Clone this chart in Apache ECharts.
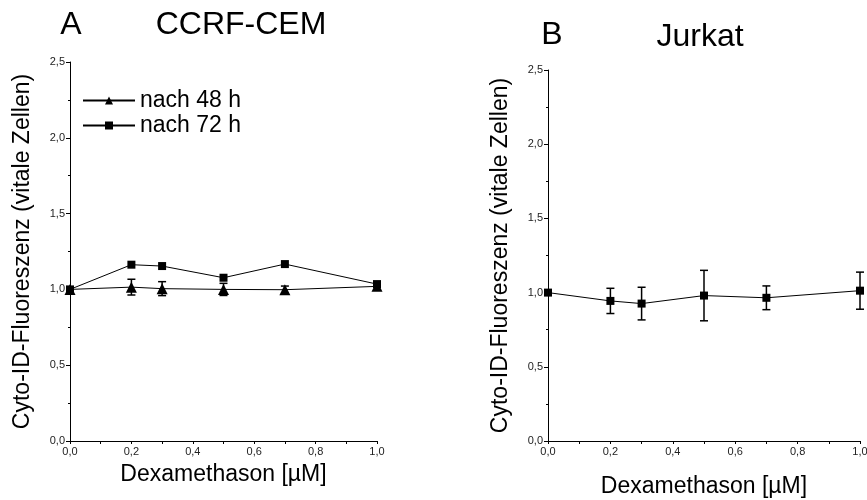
<!DOCTYPE html>
<html>
<head>
<meta charset="utf-8">
<script src="https://cdn.jsdelivr.net/npm/echarts@6/dist/echarts.min.js"></script>
<style>
  html, body { margin: 0; padding: 0; background: #fff; }
  #chart { width: 867px; height: 500px; }
</style>
</head>
<body>
<div id="chart"></div>
<script>
// Dexamethason-Konzentration [µM]
var doses = [0, 0.2, 0.3, 0.5, 0.7, 1.0]

// A: CCRF-CEM
var cem48 = [1.0, 1.015, 1.005, 1.0, 0.998, 1.02]
var cem48Err = [0, 0.052, 0.046, 0.04, 0.024, 0.025]
var cem72 = [1.0, 1.163, 1.154, 1.077, 1.167, 1.035]

// B: Jurkat
var jurkat = [1.0, 0.944, 0.926, 0.98, 0.965, 1.013]
var jurkatErr = [0, 0.085, 0.11, 0.17, 0.08, 0.125]

var yTicks = [0, 0.5, 1.0, 1.5, 2.0, 2.5]

var FONT = "'Liberation Sans', Arial, sans-serif"
var chart = echarts.init(document.getElementById('chart'))

function comma(v) {
    return v.toFixed(1).replace('.', ',')
}

function pairs(xs, ys) {
    return xs.map(function (x, i) { return [x, ys[i]] })
}

function errData(xs, ys, es) {
    var out = []
    for (var i = 0; i < xs.length; i++) {
        if (es[i] > 0) out.push([xs[i], ys[i] - es[i], ys[i] + es[i]])
    }
    return out
}

function renderErr(params, api) {
    var lo = api.coord([api.value(0), api.value(1)])
    var hi = api.coord([api.value(0), api.value(2)])
    var cap = 4
    var st = { stroke: '#000', lineWidth: 1.5 }
    return {
        type: 'group',
        children: [
            { type: 'line', shape: { x1: lo[0], y1: lo[1], x2: hi[0], y2: hi[1] }, style: st },
            { type: 'line', shape: { x1: hi[0] - cap, y1: hi[1], x2: hi[0] + cap, y2: hi[1] }, style: st },
            { type: 'line', shape: { x1: lo[0] - cap, y1: lo[1], x2: lo[0] + cap, y2: lo[1] }, style: st }
        ]
    }
}

function xAxisOf(idx, gap) {
    return {
        gridIndex: idx,
        type: 'value',
        min: 0,
        max: 1,
        interval: 0.2,
        name: 'Dexamethason [\u00b5M]',
        nameLocation: 'middle',
        nameGap: gap,
        nameTextStyle: { fontFamily: FONT, fontSize: 23, color: '#000' },
        axisLine: { lineStyle: { color: '#000', width: 1 } },
        axisTick: { length: 3, lineStyle: { color: '#000' } },
        minorTick: { show: true, splitNumber: 2, length: 3, lineStyle: { color: '#000' } },
        splitLine: { show: false },
        axisLabel: { fontFamily: FONT, fontSize: 11, color: '#222', margin: 5, formatter: comma }
    }
}

function yAxisOf(idx) {
    return {
        gridIndex: idx,
        type: 'value',
        min: yTicks[0],
        max: yTicks[yTicks.length - 1],
        interval: 0.5,
        name: 'Cyto-ID-Fluoreszenz (vitale Zellen)',
        nameLocation: 'middle',
        nameGap: 36,
        nameTextStyle: { fontFamily: FONT, fontSize: 23, color: '#000' },
        axisLine: { show: true, lineStyle: { color: '#000', width: 1 } },
        axisTick: { show: true, length: 4, lineStyle: { color: '#000' } },
        minorTick: { show: true, splitNumber: 2, length: 2, lineStyle: { color: '#000' } },
        splitLine: { show: false },
        axisLabel: { fontFamily: FONT, fontSize: 11, color: '#222', margin: 5, formatter: comma }
    }
}

var option = {
    animation: false,
    backgroundColor: '#fff',
    graphic: [
        { type: 'text', x: 71, y: 25, style: { text: 'A', font: '32px ' + FONT, fill: '#000', align: 'center', verticalAlign: 'middle' } },
        { type: 'text', x: 241, y: 25, style: { text: 'CCRF-CEM', font: '32px ' + FONT, fill: '#000', align: 'center', verticalAlign: 'middle' } },
        { type: 'text', x: 552, y: 35, style: { text: 'B', font: '32px ' + FONT, fill: '#000', align: 'center', verticalAlign: 'middle' } },
        { type: 'text', x: 700, y: 37, style: { text: 'Jurkat', font: '32px ' + FONT, fill: '#000', align: 'center', verticalAlign: 'middle' } }
    ],
    legend: {
        data: ['nach 48 h', 'nach 72 h'],
        orient: 'vertical',
        left: 77,
        top: 84,
        itemWidth: 52,
        itemHeight: 10,
        itemGap: 2,
        textStyle: { fontFamily: FONT, fontSize: 23, color: '#000' }
    },
    grid: [
        { left: 70, top: 62, width: 307, height: 379, outerBoundsMode: 'none' },
        { left: 548, top: 70, width: 312, height: 371, outerBoundsMode: 'none' }
    ],
    xAxis: [xAxisOf(0, 22), xAxisOf(1, 34)],
    yAxis: [yAxisOf(0), yAxisOf(1)],
    series: [
        {
            name: 'nach 48 h',
            type: 'line',
            xAxisIndex: 0,
            yAxisIndex: 0,
            data: pairs(doses, cem48),
            symbol: 'triangle',
            symbolSize: 11,
            clip: false,
            lineStyle: { color: '#000', width: 1 },
            itemStyle: { color: '#000' },
            z: 3
        },
        {
            name: 'nach 72 h',
            type: 'line',
            xAxisIndex: 0,
            yAxisIndex: 0,
            data: pairs(doses, cem72),
            symbol: 'rect',
            symbolSize: 8,
            clip: false,
            lineStyle: { color: '#000', width: 1 },
            itemStyle: { color: '#000' },
            z: 3
        },
        {
            name: 'err48',
            type: 'custom',
            xAxisIndex: 0,
            yAxisIndex: 0,
            data: errData(doses, cem48, cem48Err),
            renderItem: renderErr,
            clip: false,
            z: 2
        },
        {
            name: 'Jurkat',
            type: 'line',
            xAxisIndex: 1,
            yAxisIndex: 1,
            data: pairs(doses, jurkat),
            symbol: 'rect',
            symbolSize: 8,
            clip: false,
            lineStyle: { color: '#000', width: 1 },
            itemStyle: { color: '#000' },
            z: 3
        },
        {
            name: 'errJurkat',
            type: 'custom',
            xAxisIndex: 1,
            yAxisIndex: 1,
            data: errData(doses, jurkat, jurkatErr),
            renderItem: renderErr,
            clip: false,
            z: 2
        }
    ]
}

chart.setOption(option)
</script>
</body>
</html>
